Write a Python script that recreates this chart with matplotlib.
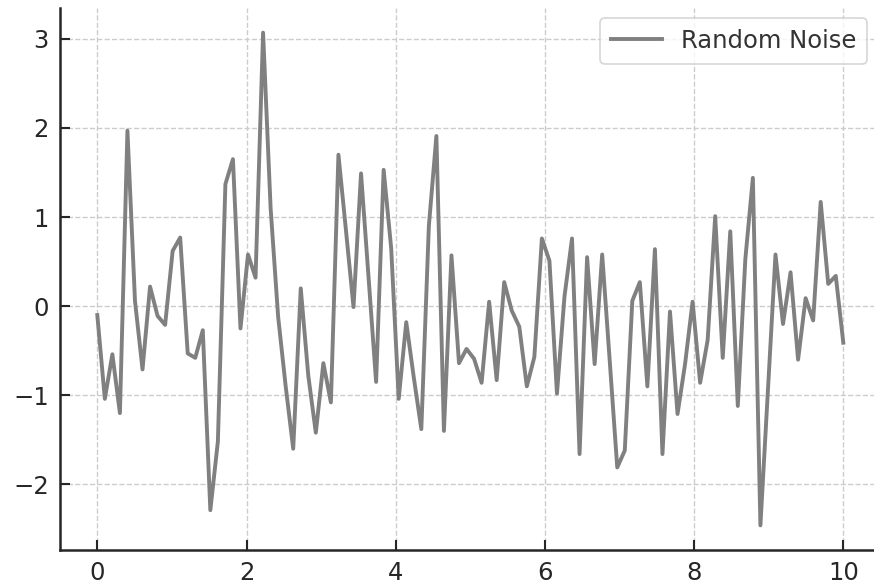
import numpy as np
import matplotlib
matplotlib.use("Agg")
import matplotlib.pyplot as plt

x_start, x_end, n_points = 0, 10, 100
noise = [
    -0.10, -1.04, -0.54, -1.20, 1.97, 0.06, -0.71, 0.22, -0.11, -0.21,
    0.62, 0.77, -0.53, -0.58, -0.27, -2.29, -1.52, 1.37, 1.65, -0.25,
    0.58, 0.32, 3.07, 1.10, -0.12, -0.90, -1.60, 0.20, -0.78, -1.42,
    -0.64, -1.08, 1.70, 0.85, -0.01, 1.49, 0.32, -0.85, 1.53, 0.65,
    -1.04, -0.18, -0.80, -1.38, 0.90, 1.91, -1.40, 0.57, -0.64, -0.48,
    -0.59, -0.86, 0.05, -0.83, 0.27, -0.05, -0.23, -0.90, -0.57, 0.76,
    0.51, -0.98, 0.11, 0.76, -1.66, 0.55, -0.65, 0.58, -0.61, -1.81,
    -1.62, 0.06, 0.27, -0.90, 0.64, -1.66, -0.06, -1.21, -0.65, 0.05,
    -0.86, -0.38, 1.01, -0.58, 0.84, -1.12, 0.53, 1.44, -2.46, -0.94,
    0.58, -0.20, 0.38, -0.60, 0.09, -0.16, 1.17, 0.25, 0.34, -0.41,
]
series_label = "Random Noise"
x = np.linspace(x_start, x_end, n_points)

fig = plt.figure(figsize=(8.74, 5.88), dpi=100)
ax = fig.add_axes([60 / 874, 38 / 588, 820.6 / 874, 542 / 588])

ax.plot(x, noise, color="#808080", linewidth=2.8, label=series_label)
ax.set_xlim(-0.5, 10.5)

ax.grid(True, linestyle="--", color="#cccccc", linewidth=1.0)
ax.set_axisbelow(True)
for s in ["top", "right"]:
    ax.spines[s].set_visible(False)
for s in ["left", "bottom"]:
    ax.spines[s].set_color("#262626")
    ax.spines[s].set_linewidth(1.8)

ax.set_xticks([0, 2, 4, 6, 8, 10])
ax.set_yticks([-2, -1, 0, 1, 2, 3])
ax.tick_params(direction="in", length=7, width=1.5, labelsize=17.5,
               colors="#262626", pad=8)

leg = ax.legend(loc="upper right", bbox_to_anchor=(867 / 874, 1 - 18 / 588),
                bbox_transform=fig.transFigure, borderaxespad=0,
                fontsize=17.5, frameon=True, fancybox=True,
                handlelength=2.1, handletextpad=0.75, borderpad=0.45)
leg.get_frame().set_edgecolor("#cccccc")
leg.get_frame().set_linewidth(1.2)
for t in leg.get_texts():
    t.set_color("#333333")

fig.savefig("out.png", dpi=100)
